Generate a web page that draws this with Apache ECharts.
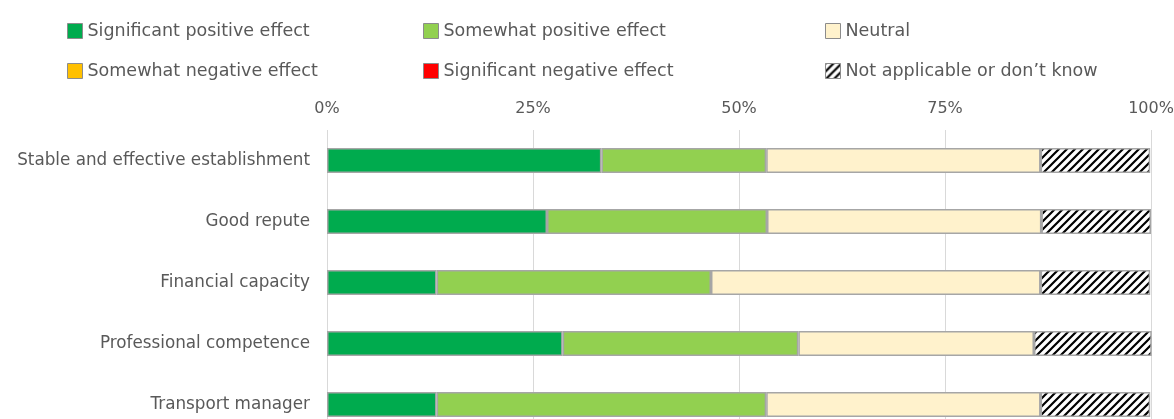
<!DOCTYPE html>
<html>
<head>
<meta charset="utf-8">
<script src="https://cdn.jsdelivr.net/npm/echarts@6/dist/echarts.min.js"></script>
<style>
  html, body { margin: 0; padding: 0; background: #fff; }
  #main { width: 1174px; height: 419px; }
</style>
</head>
<body>
<div id="main"></div>
<script>
const categories = [
  "Stable and effective establishment",
  "Good repute",
  "Financial capacity",
  "Professional competence",
  "Transport manager"
];
const seriesNames = [
  "Significant positive effect",
  "Somewhat positive effect",
  "Neutral",
  "Somewhat negative effect",
  "Significant negative effect",
  "Not applicable or don\u2019t know"
];
const significantPositive = [33.3, 26.7, 13.3, 28.6, 13.3];
const somewhatPositive = [20.0, 26.7, 33.3, 28.6, 40.0];
const neutral = [33.3, 33.3, 40.0, 28.6, 33.3];
const somewhatNegative = [0, 0, 0, 0, 0];
const significantNegative = [0, 0, 0, 0, 0];
const notApplicable = [13.3, 13.3, 13.3, 14.3, 13.3];
const tickValues = [0, 25, 50, 75, 100];

const allValues = [significantPositive, somewhatPositive, neutral, somewhatNegative, significantNegative, notApplicable];
const font = "DejaVu Sans";

// "/" hatching for the not applicable bars
function hatchPattern() {
  const size = 8;
  const c = document.createElement("canvas");
  c.width = size;
  c.height = size;
  const ctx = c.getContext("2d");
  ctx.fillStyle = "#fff";
  ctx.fillRect(0, 0, size, size);
  ctx.strokeStyle = "#000";
  ctx.lineWidth = 2.2;
  ctx.beginPath();
  ctx.moveTo(-2, size + 2);
  ctx.lineTo(size + 2, -2);
  ctx.moveTo(-2, 2);
  ctx.lineTo(2, -2);
  ctx.moveTo(size - 2, size + 2);
  ctx.lineTo(size + 2, size - 2);
  ctx.stroke();
  return { image: c, repeat: "repeat" };
}

const colors = ["#00ab4e", "#92d050", "#fff2cc", "#ffc000", "#ff0000", hatchPattern()];

const series = seriesNames.map((name, i) => ({
  name,
  type: "bar",
  stack: "total",
  barWidth: 25,
  data: allValues[i],
  itemStyle: { color: colors[i], borderColor: "#a6a6a6", borderWidth: 1.5 }
}));

// one legend per item so each sits where it does in the source
const legendPos = [
  { left: 62, top: 17 }, { left: 418, top: 17 }, { left: 820, top: 17 },
  { left: 62, top: 57 }, { left: 418, top: 57 }, { left: 820, top: 57 }
];
const legends = seriesNames.map((name, i) => ({
  data: [name],
  left: legendPos[i].left,
  top: legendPos[i].top,
  itemWidth: 15,
  itemHeight: 15,
  icon: "rect",
  selectedMode: false,
  itemStyle: { borderColor: "#8c8c8c", borderWidth: 1 },
  textStyle: { fontFamily: font, fontSize: 17.5, color: "#595959" }
}));

const chart = echarts.init(document.getElementById("main"));
chart.setOption({
  animation: false,
  legend: legends,
  grid: { left: 327, right: 23, top: 130, height: 305, outerBoundsMode: "none" },
  xAxis: {
    type: "value",
    position: "top",
    min: 0,
    max: 100,
    interval: 25,
    axisLine: { show: false },
    axisTick: { show: false },
    axisLabel: {
      formatter: v => tickValues.includes(v) ? v + "%" : "",
      fontFamily: font,
      fontSize: 16,
      color: "#595959",
      margin: 13
    },
    splitLine: { show: true, lineStyle: { color: "#d9d9d9", width: 1 } }
  },
  yAxis: {
    type: "category",
    data: categories,
    inverse: true,
    axisLine: { show: false },
    axisTick: { show: false },
    axisLabel: { fontFamily: font, fontSize: 16.8, color: "#595959", margin: 17 }
  },
  series
});
</script>
</body>
</html>
